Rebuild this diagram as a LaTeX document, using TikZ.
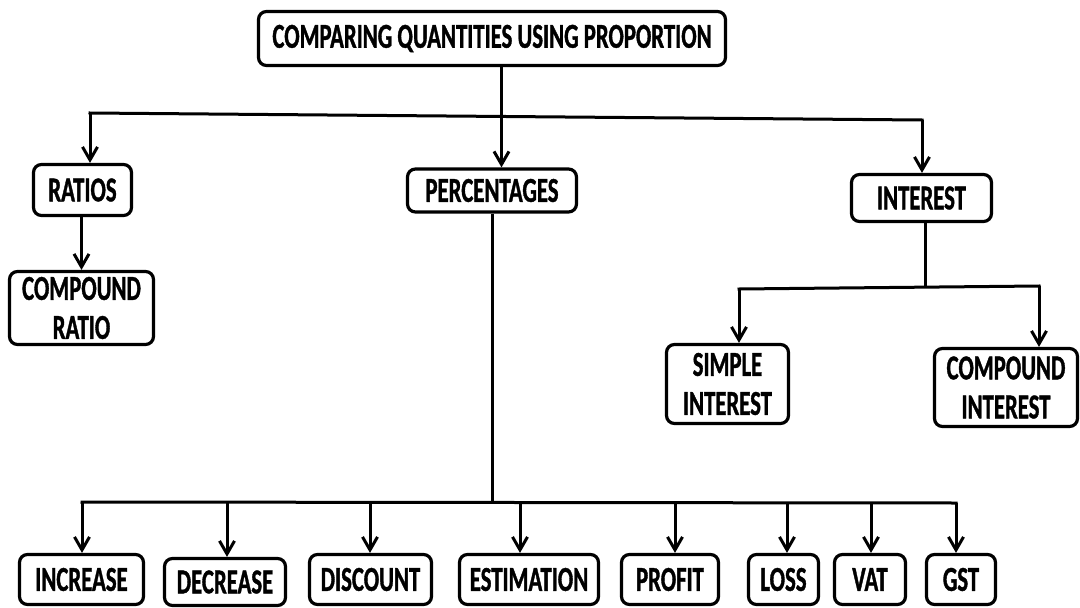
\documentclass[tikz,border=0pt]{standalone}
\usepackage{fontspec}
\newfontfamily\lblfont{Carlito}[FakeStretch=0.65, FakeBold=1]
\usetikzlibrary{arrows.meta,calc}
\begin{document}
\begin{tikzpicture}[x=1pt,y=-1pt,
  box/.style={draw, line width=3.2pt, rounded corners=8pt, align=center,
    inner sep=0pt, font=\lblfont\bfseries\fontsize{35}{39}\selectfont},
  link/.style={line width=3pt},
  bus/.style={link, line cap=rect},
  arr/.style={link, -{Straight Barb[length=13pt,width=15pt]}}]
\useasboundingbox (0,0) rectangle (1080,608);

% boxes
\node[box, minimum width=467pt, minimum height=54pt] (top) at (492,38.5) {COMPARING QUANTITIES USING PROPORTION};
\node[box, minimum width=98pt, minimum height=51pt] (ratios) at (82.5,190) {RATIOS};
\node[box, minimum width=144pt, minimum height=73pt] (cratio) at (81.5,308) {COMPOUND\\RATIO};
\node[box, minimum width=169pt, minimum height=43pt] (perc) at (492,190.5) {PERCENTAGES};
\node[box, minimum width=140pt, minimum height=47pt] (interest) at (921.5,198) {INTEREST};
\node[box, minimum width=122pt, minimum height=79pt] (simple) at (727.5,384) {SIMPLE\\INTEREST};
\node[box, minimum width=143pt, minimum height=78pt] (cint) at (1006,387.5) {COMPOUND\\INTEREST};

\node[box, minimum width=124pt, minimum height=50pt] (inc) at (81.5,579.5) {INCREASE};
\node[box, minimum width=121pt, minimum height=47pt] (dec) at (225,582) {DECREASE};
\node[box, minimum width=122pt, minimum height=50pt] (disc) at (370.5,579.5) {DISCOUNT};
\node[box, minimum width=139pt, minimum height=50pt] (est) at (529,579.5) {ESTIMATION};
\node[box, minimum width=97pt, minimum height=50pt] (prof) at (670,579.5) {PROFIT};
\node[box, minimum width=70pt, minimum height=50pt] (loss) at (783.5,579.5) {LOSS};
\node[box, minimum width=71pt, minimum height=50pt] (vat) at (870,579.5) {VAT};
\node[box, minimum width=69pt, minimum height=50pt] (gst) at (961,579.5) {GST};

% top level branches
\coordinate (tp) at (501.5,0);
\coordinate (bl) at (90,113);
\coordinate (br) at (922,120);
\draw[bus] (bl) -- (br);
\draw[arr] (top.south -| tp) -- (perc.north -| tp);
\draw[arr] (bl) -- (ratios.north -| bl);
\draw[arr] (br) -- (interest.north -| br);
\draw[arr] (ratios.south -| cratio.north) -- (cratio.north);

% interest branches
\coordinate (ist) at (925,287.5);
\coordinate (ibl) at (739,289);
\coordinate (ibr) at (1039,286);
\draw[link] (interest.south -| ist) -- (ist);
\draw[bus] (ibl) -- (ibr);
\draw[arr] (ibl) -- (simple.north -| ibl);
\draw[arr] (ibr) -- (cint.north -| ibr);

% percentage branches
\coordinate (pst) at (492,502.5);
\draw[link] (perc.south) -- (pst);
\coordinate (b1) at (82,502);
\coordinate (b2) at (227,502.5);
\coordinate (b3) at (370,502.5);
\coordinate (b4) at (520,502.5);
\coordinate (b5) at (675,502.5);
\coordinate (b6) at (787,502.5);
\coordinate (b7) at (871,503);
\coordinate (b8) at (956,503);
\draw[bus] (b1) -- (b8);
\draw[arr] (b1) -- (inc.north -| b1);
\draw[arr] (b2) -- (dec.north -| b2);
\draw[arr] (b3) -- (disc.north -| b3);
\draw[arr] (b4) -- (est.north -| b4);
\draw[arr] (b5) -- (prof.north -| b5);
\draw[arr] (b6) -- (loss.north -| b6);
\draw[arr] (b7) -- (vat.north -| b7);
\draw[arr] (b8) -- (gst.north -| b8);
\end{tikzpicture}
\end{document}
